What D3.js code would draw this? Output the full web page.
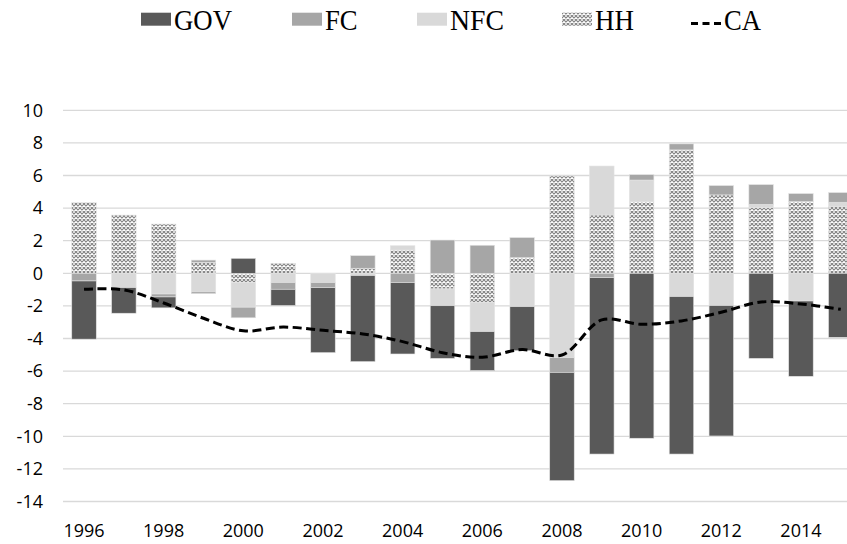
<!DOCTYPE html>
<html>
<head>
<meta charset="utf-8">
<script src="https://cdn.jsdelivr.net/npm/d3@7"></script>
<style>
  html, body { margin: 0; padding: 0; background: #fff; overflow: hidden; }
  svg { display: block; }
</style>
</head>
<body>
<svg id="chart" width="847" height="544"></svg>
<script>
const years = [1996,1997,1998,1999,2000,2001,2002,2003,2004,2005,2006,2007,2008,2009,2010,2011,2012,2013,2014,2015];
const GOV = [-3.57,-1.57,-0.67,-0.07,0.92,-1.00,-3.99,-5.28,-4.38,-3.23,-2.39,-2.70,-6.64,-10.82,-10.12,-9.66,-8.00,-5.22,-4.62,-3.93];
const FC  = [-0.47,0,-0.18,0.14,-0.65,-0.41,-0.31,0.77,-0.57,2.04,1.72,1.23,-0.90,-0.27,0.33,0.37,0.57,1.21,0.49,0.59];
const NFC = [0,-0.88,-1.27,-1.16,-1.51,-0.57,-0.57,-0.14,0.26,-1.03,-1.80,-2.05,-5.18,3.00,1.33,-1.43,-1.98,0.20,-1.70,0.27];
const HH  = [4.35,3.57,3.02,0.67,-0.57,0.61,0,0.31,1.43,-0.96,-1.78,0.96,5.97,3.58,4.39,7.57,4.81,4.03,4.40,4.09];
const CA  = [-0.98,-1.02,-1.82,-2.76,-3.53,-3.30,-3.50,-3.72,-4.19,-4.87,-5.15,-4.68,-5.01,-2.86,-3.13,-2.92,-2.39,-1.76,-1.88,-2.21];
const yTicks = [-14,-12,-10,-8,-6,-4,-2,0,2,4,6,8,10];
const xLabels = [1996,1998,2000,2002,2004,2006,2008,2010,2012,2014];
const legendNames = ["GOV","FC","NFC","HH","CA"];
const stackOrder = ["HH","NFC","FC","GOV"];

const svg = d3.select("#chart");
const defs = svg.append("defs");
const pat = defs.append("pattern").attr("id","hhpat").attr("patternUnits","userSpaceOnUse")
  .attr("width",4).attr("height",4);
pat.append("rect").attr("width",4).attr("height",4).attr("fill","#ffffff");
pat.append("path").attr("d","M0,0L4,4M4,0L0,4").attr("stroke","#858585").attr("stroke-width",1.15);

const fills = {GOV:"#595959", FC:"#a6a6a6", NFC:"#d9d9d9", HH:"url(#hhpat)"};

const x = d3.scaleBand().domain(years).range([64.1, 860.7]).paddingInner(0.385).paddingOuter(0.1925);
const y = d3.scaleLinear().domain([-14,10]).range([501.5,110.3]);

// gridlines
svg.append("g").selectAll("line").data(yTicks).join("line")
  .attr("x1",63).attr("x2",900)
  .attr("y1",d=>y(d)).attr("y2",d=>y(d))
  .attr("stroke","#d9d9d9").attr("stroke-width",1.3);

// y labels
svg.append("g").selectAll("text").data(yTicks).join("text")
  .attr("x",43).attr("y",d=>y(d)).attr("dy","0.35em")
  .attr("text-anchor","end")
  .attr("font-family","'Open Sans', sans-serif").attr("font-size",18).attr("fill","#000")
  .text(d=>d);

// x labels
svg.append("g").selectAll("text").data(xLabels).join("text")
  .attr("x",d=>x(d)+x.bandwidth()/2).attr("y",536.5)
  .attr("text-anchor","middle")
  .attr("font-family","'Open Sans', sans-serif").attr("font-size",18).attr("fill","#000")
  .text(d=>d);

// stacked bars
const table = years.map((yr,i)=>({year:yr, GOV:GOV[i], FC:FC[i], NFC:NFC[i], HH:HH[i]}));
const series = d3.stack().keys(stackOrder).offset(d3.stackOffsetDiverging)(table);
svg.append("g").selectAll("g").data(series).join("g")
  .attr("fill",s=>fills[s.key])
  .selectAll("rect").data(s=>s).join("rect")
  .attr("x",d=>x(d.data.year))
  .attr("width",x.bandwidth())
  .attr("y",d=>y(Math.max(d[0],d[1])))
  .attr("height",d=>Math.abs(y(d[0])-y(d[1])))
  .attr("stroke","#e3e3e3").attr("stroke-width",0.6);

// CA line
const line = d3.line().x((d,i)=>x(years[i])+x.bandwidth()/2).y(d=>y(d)).curve(d3.curveCatmullRom.alpha(0.5));
svg.append("path").datum(CA).attr("d",line)
  .attr("fill","none").attr("stroke","#000").attr("stroke-width",3)
  .attr("stroke-dasharray","9,4.5");

// legend
const lg = svg.append("g");
const legX = [141,292,417,562,691];
const legW = [58,32.6,54,39,37];
legendNames.forEach((n,i)=>{
  if(n==="CA"){
    lg.append("line").attr("x1",legX[i]).attr("x2",legX[i]+32).attr("y1",23.5).attr("y2",23.5)
      .attr("stroke","#000").attr("stroke-width",3).attr("stroke-dasharray","7,4.5");
  } else {
    lg.append("rect").attr("x",legX[i]).attr("y",12.7).attr("width",30).attr("height",13)
      .attr("fill",fills[n]);
  }
  lg.append("text").attr("x",legX[i]+33).attr("y",29.5)
    .attr("font-family","'Liberation Serif', 'Times New Roman', serif").attr("font-size",29)
    .attr("textLength",legW[i]).attr("lengthAdjust","spacingAndGlyphs")
    .text(n);
});
</script>
</body>
</html>
